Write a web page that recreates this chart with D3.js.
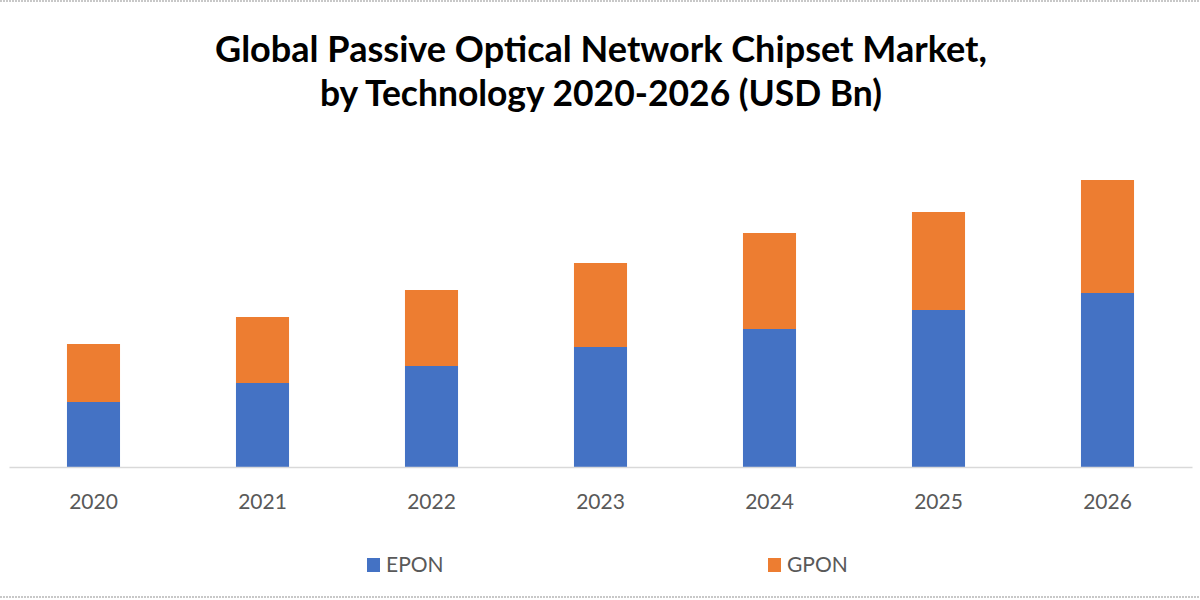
<!DOCTYPE html>
<html><head><meta charset="utf-8">
<script src="https://cdn.jsdelivr.net/npm/d3@7"></script>
<style>body{margin:0;background:#fff}svg{display:block}</style>
</head><body>
<svg id="c" width="1200" height="600"></svg>
<script>
const years = ["2020","2021","2022","2023","2024","2025","2026"];
const epon = [0.65,0.84,1.01,1.20,1.38,1.57,1.74];
const gpon = [0.58,0.66,0.76,0.84,0.96,0.98,1.13];
const seriesNames = ["EPON","GPON"];
const colors = ["#4472C4","#ED7D31"];

const svg = d3.select("#c");
svg.append("line").attr("x1",0).attr("x2",1200).attr("y1",1).attr("y2",1)
  .attr("stroke","#c8c8c8").attr("stroke-width",2).attr("stroke-dasharray","2,1");
svg.append("line").attr("x1",0).attr("x2",1200).attr("y1",597).attr("y2",597)
  .attr("stroke","#c8c8c8").attr("stroke-width",2).attr("stroke-dasharray","2,1");

const title = svg.append("text").attr("text-anchor","middle")
  .attr("font-family","Lato, 'Open Sans', sans-serif").attr("font-weight","bold")
  .attr("font-size",36).attr("fill","#000");
title.append("tspan").attr("x",601).attr("y",62)
  .attr("textLength",772).attr("lengthAdjust","spacingAndGlyphs")
  .text("Global Passive Optical Network Chipset Market,");
title.append("tspan").attr("x",601).attr("y",106)
  .attr("textLength",562).attr("lengthAdjust","spacingAndGlyphs")
  .text("by Technology 2020-2026 (USD Bn)");

const x = d3.scaleBand().domain(years).range([9,1192]).paddingInner(0.686).paddingOuter(0.343);
const y = d3.scaleLinear().domain([0,3]).range([467,167]);

const data = years.map((yr,i)=>({year:yr, EPON:epon[i], GPON:gpon[i]}));
const stacked = d3.stack().keys(seriesNames)(data);

svg.append("g").selectAll("g").data(stacked).join("g")
  .attr("fill",(d,i)=>colors[i])
  .selectAll("rect").data(d=>d).join("rect")
  .attr("x",d=>x(d.data.year)).attr("width",x.bandwidth())
  .attr("y",d=>y(d[1])).attr("height",d=>y(d[0])-y(d[1]));

const ax = svg.append("g").attr("transform","translate(0,467)")
  .call(d3.axisBottom(x).tickSize(0).tickPadding(27));
ax.select(".domain").attr("stroke","#d9d9d9").attr("stroke-width",1.5);
ax.selectAll("text").attr("font-family","Lato, 'Open Sans', sans-serif")
  .attr("font-size",21).attr("fill","#595959");

const legX = [367,768];
const lg = svg.append("g").selectAll("g").data(seriesNames).join("g")
  .attr("transform",(d,i)=>`translate(${legX[i]},558)`);
lg.append("rect").attr("width",13).attr("height",14).attr("fill",(d,i)=>colors[i]);
lg.append("text").attr("x",19).attr("y",14).text(d=>d)
  .attr("font-family","Lato, 'Open Sans', sans-serif").attr("font-size",21).attr("fill","#595959");
</script>
</body></html>
